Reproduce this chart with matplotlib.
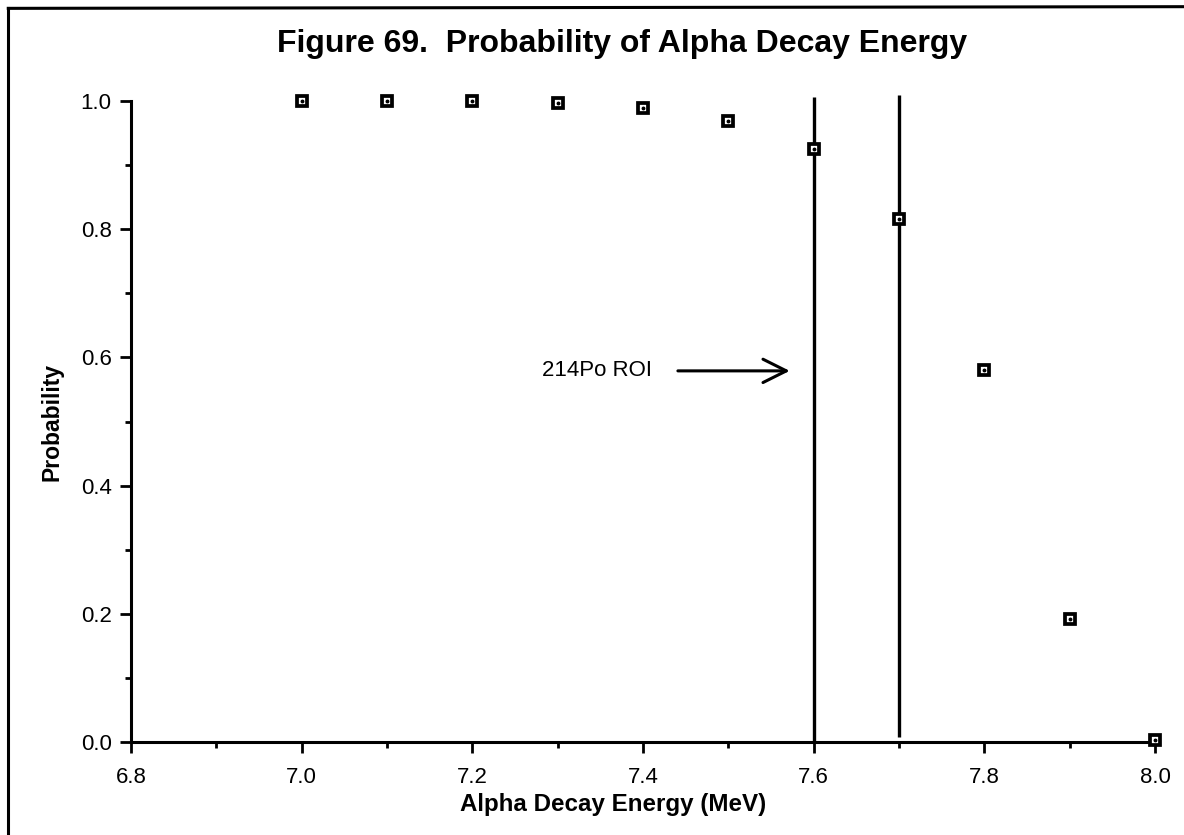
import matplotlib
matplotlib.use("Agg")
import matplotlib.pyplot as plt
from matplotlib.lines import Line2D
from matplotlib.ticker import MultipleLocator

plt.rcParams['font.family'] = ['Liberation Sans', 'DejaVu Sans']

# energie alpha (MeV) et probabilite
energie = [7.0, 7.1, 7.2, 7.3, 7.4, 7.5, 7.6, 7.7, 7.8, 7.9, 8.0]
proba = [1.0, 1.0, 1.0, 0.997, 0.989, 0.969, 0.925, 0.816, 0.580, 0.192, 0.003]

# limites de la region d'interet 214Po
roi_x = [7.6, 7.7]
roi_bas = [0.0, 0.008]
roi_haut = [1.006, 1.009]

fig = plt.figure(figsize=(11.84, 8.35), dpi=100)
ax = fig.add_axes([0.1106, 0.1114, 0.8649, 0.7676])

ax.vlines(roi_x, roi_bas, roi_haut, colors='black', linewidth=2.4, clip_on=False, zorder=2)

ax.plot(energie, proba, linestyle='none', marker='s', markersize=6.8,
        markerfacecolor='white', markeredgecolor='black', markeredgewidth=2.7,
        clip_on=False, zorder=3)
ax.plot(energie, proba, linestyle='none', marker='o', markersize=1.8,
        color='black', clip_on=False, zorder=4)

ax.annotate('214Po ROI', xy=(7.572, 0.579), xytext=(7.41, 0.579),
            fontsize=16, ha='right', va='center',
            arrowprops=dict(arrowstyle='->', lw=2.2, color='black',
                            mutation_scale=42, shrinkA=17, shrinkB=0))

ax.set_xlim(6.8, 8.0)
ax.set_ylim(0, 1.0)
ax.xaxis.set_major_locator(MultipleLocator(0.2))
ax.xaxis.set_minor_locator(MultipleLocator(0.1))
ax.yaxis.set_major_locator(MultipleLocator(0.2))
ax.yaxis.set_minor_locator(MultipleLocator(0.1))
ax.xaxis.set_major_formatter(plt.FormatStrFormatter('%.1f'))
ax.yaxis.set_major_formatter(plt.FormatStrFormatter('%.1f'))

for s in ['top', 'right']:
    ax.spines[s].set_visible(False)
for s in ['left', 'bottom']:
    ax.spines[s].set_linewidth(2.2)

ax.tick_params(which='major', direction='out', length=8, width=2, labelsize=16)
ax.tick_params(which='minor', direction='out', length=4.5, width=2)
ax.tick_params(axis='x', which='major', pad=10)
ax.tick_params(axis='y', which='major', pad=6)

ax.set_xlabel('Alpha Decay Energy (MeV)', fontsize=17.4, fontweight='bold')
ax.xaxis.set_label_coords(0.471, -0.08)
ax.set_ylabel('Probability', fontsize=16.5, fontweight='bold', labelpad=12)

fig.text(0.525, 0.947, 'Figure 69.  Probability of Alpha Decay Energy',
         fontsize=23, fontweight='bold', ha='center', va='center')

# cadre du document (haut et gauche)
fig.add_artist(Line2D([0.007, 1.0], [0.990, 0.992], color='black', linewidth=2.2))
fig.add_artist(Line2D([0.007, 0.007], [0.0, 0.990], color='black', linewidth=2.2))

fig.savefig('out.png', dpi=100)
